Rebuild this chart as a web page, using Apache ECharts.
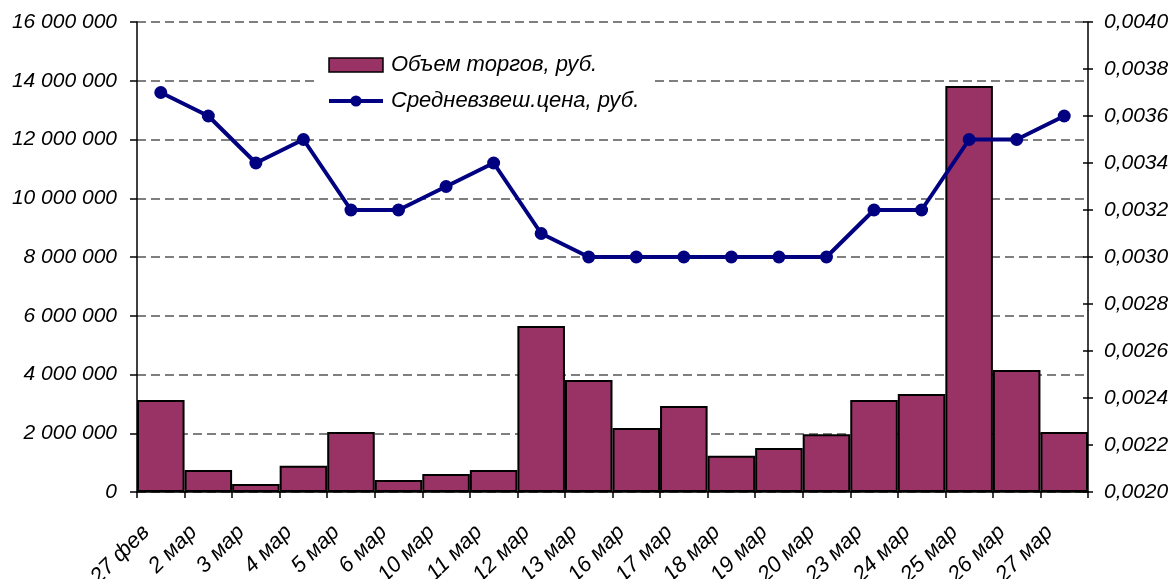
<!DOCTYPE html>
<html><head><meta charset="utf-8">
<script src="https://cdn.jsdelivr.net/npm/echarts@6/dist/echarts.min.js"></script>
<style>html,body{margin:0;padding:0;background:#fff}#c{width:1174px;height:579px}</style>
</head><body><div id="c"></div>
<script>
const categories = ['27 фев','2 мар','3 мар','4 мар','5 мар','6 мар','10 мар','11 мар','12 мар','13 мар','16 мар','17 мар','18 мар','19 мар','20 мар','23 мар','24 мар','25 мар','26 мар','27 мар'];
const volume = [3130000,750000,270000,890000,2040000,410000,610000,750000,5650000,3810000,2180000,2930000,1230000,1500000,1970000,3130000,3340000,13820000,4150000,2040000];
const price = [0.0037,0.0036,0.0034,0.0035,0.0032,0.0032,0.0033,0.0034,0.0031,0.0030,0.0030,0.0030,0.0030,0.0030,0.0030,0.0032,0.0032,0.0035,0.0035,0.0036];
const seriesNames = ['Объем торгов, руб.','Средневзвеш.цена, руб.'];

const font = {fontFamily:'"Liberation Sans", Arial, sans-serif', fontStyle:'italic', fontSize:21, color:'#000'};
const chart = echarts.init(document.getElementById('c'), null, {renderer:'canvas'});
chart.setOption({
  animation:false,
  backgroundColor:'#fff',
  grid:{left:137,right:86,top:22,bottom:87,containLabel:false,outerBoundsMode:'none'},
  legend:{
    left:319, top:46, orient:'vertical', itemGap:14, itemWidth:54, itemHeight:14,
    backgroundColor:'#fff', padding:[8,12,8,8],
    textStyle:Object.assign({},font,{fontSize:22,padding:[0,0,0,3]}),
    data:[{name:seriesNames[0],icon:'rect',itemStyle:{borderColor:'#000',borderWidth:1.5}},
          {name:seriesNames[1],lineStyle:{width:4,color:'#000080'}}]
  },
  xAxis:{
    type:'category', data:categories, boundaryGap:true,
    axisLine:{lineStyle:{color:'#000',width:1.5}},
    axisTick:{show:true,length:6,inside:false,alignWithLabel:false,lineStyle:{color:'#000',width:1.5}},
    axisLabel:Object.assign({},font,{fontSize:22,rotate:45,margin:22,interval:0,padding:[0,21,0,0]})
  },
  yAxis:[{
    type:'value', min:0, max:16000000, interval:2000000, position:'left',
    axisLine:{show:true,lineStyle:{color:'#000',width:1.5}},
    axisTick:{show:true,length:7,lineStyle:{color:'#000',width:1.5}},
    splitLine:{show:true,lineStyle:{color:'#555',width:1.5,type:[9,5]}},
    axisLabel:Object.assign({},font,{margin:20,formatter:v=>String(v).replace(/\B(?=(\d{3})+(?!\d))/g,' ')})
  },{
    type:'value', min:0.002, max:0.004, interval:0.0002, position:'right',
    axisLine:{show:true,lineStyle:{color:'#000',width:1.5}},
    axisTick:{show:true,length:5,lineStyle:{color:'#000',width:1.5}},
    splitLine:{show:false},
    axisLabel:Object.assign({},font,{margin:16,formatter:v=>v.toFixed(4).replace('.',',')})
  },{
    type:'value', min:0.002, max:0.004, interval:0.0002, position:'right',
    axisLine:{show:false},
    axisTick:{show:true,inside:true,length:5,lineStyle:{color:'#000',width:1.5}},
    splitLine:{show:false}, axisLabel:{show:false}
  }],
  series:[{
    name:seriesNames[0], type:'bar', data:volume, yAxisIndex:0, barCategoryGap:'0%',
    itemStyle:{color:'#993366',borderColor:'#000',borderWidth:2}, z:2
  },{
    name:seriesNames[1], type:'line', data:price, yAxisIndex:1,
    symbol:'circle', symbolSize:13, lineStyle:{color:'#000080',width:4},
    itemStyle:{color:'#000080'}, z:3
  }]
});
</script></body></html>
